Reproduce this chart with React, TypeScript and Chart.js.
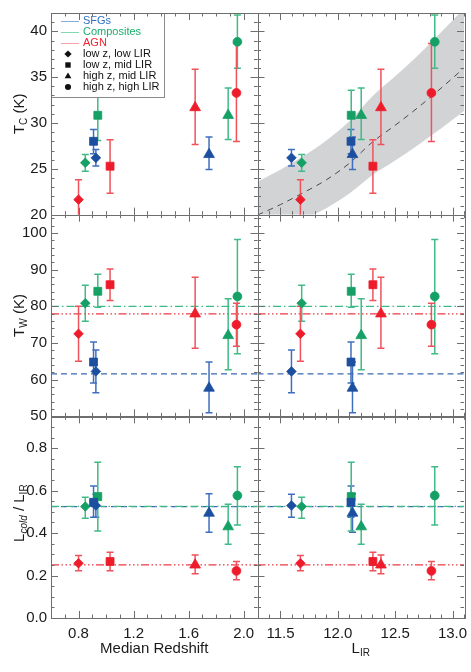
import React, { useEffect, useRef } from 'react';
import { Chart, registerables } from 'chart.js';

const FONT = '"Liberation Sans", Arial, Helvetica, sans-serif';

// ---------------- axes ----------------
const Z_RANGE = [0.6, 2.1];
const LIR_RANGE = [11.3, 13.1];
const TC_RANGE = [20, 42];
const TW_RANGE = [50, 105];
const LF_RANGE = [0, 0.95];
const Z_TICKS = [0.8, 1.2, 1.6, 2.0];
const LIR_TICKS = [11.5, 12.0, 12.5, 13.0];
const TC_TICKS = [20, 25, 30, 35, 40];
const TW_TICKS = [50, 60, 70, 80, 90, 100];
const LF_TICKS = [0.0, 0.2, 0.4, 0.6, 0.8];
const Z_MINOR = 0.1;
const LIR_MINOR = 0.1;
const TC_MINOR = 1;
const TW_MINOR = 2;
const LF_MINOR = 0.05;

// ---------------- categories / groups ----------------
const CATEGORY_LABELS = ['low z, low LIR', 'low z, mid LIR', 'high z, mid LIR', 'high z, high LIR'];
const CATEGORY_SHAPES = ['rectRot', 'rect', 'triangle', 'circle'];
const GROUP_NAMES = ['SFGs', 'Composites', 'AGN'];

// ---------------- SFGs (no high z, high LIR bin) ----------------
const SFG_Z = [0.926, 0.909, 1.748, null];
const SFG_LIR = [11.596, 12.115, 12.128, null];
const SFG_TC = [26.2, 28.0, 26.57, null];
const SFG_TC_LO = [25.3, 26.64, 24.93, null];
const SFG_TC_HI = [27.1, 29.3, 28.46, null];
const SFG_TW = [62.25, 64.8, 57.7, null];
const SFG_TW_LO = [56.4, 59.1, 51.0, null];
const SFG_TW_HI = [68.1, 70.3, 64.8, null];
const SFG_LF = [0.53, 0.545, 0.494, null];
const SFG_LF_LO = [0.475, 0.475, 0.404, null];
const SFG_LF_HI = [0.583, 0.622, 0.585, null];

// ---------------- Composites ----------------
const COMP_Z = [0.849, 0.94, 1.887, 1.954];
const COMP_LIR = [11.685, 12.117, 12.204, 12.845];
const COMP_TC = [25.66, 30.84, 30.84, 38.86];
const COMP_TC_LO = [24.74, 28.1, 28.2, 35.98];
const COMP_TC_HI = [26.57, 33.57, 33.82, 41.78];
const COMP_TW = [80.85, 84.1, 72.05, 82.7];
const COMP_TW_LO = [75.9, 79.75, 62.7, 67.1];
const COMP_TW_HI = [85.75, 88.75, 82.05, 98.2];
const COMP_LF = [0.525, 0.572, 0.43, 0.577];
const COMP_LF_LO = [0.47, 0.41, 0.348, 0.438];
const COMP_LF_HI = [0.569, 0.734, 0.536, 0.713];

// ---------------- AGN ----------------
const AGN_Z = [0.8, 1.029, 1.647, 1.947];
const AGN_LIR = [11.674, 12.306, 12.376, 12.816];
const AGN_TC = [21.64, 25.29, 31.68, 33.28];
const AGN_TC_LO = [19.3, 22.33, 27.66, 27.99];
const AGN_TC_HI = [23.8, 28.18, 35.87, 38.68];
const AGN_TW = [72.5, 85.9, 77.95, 75.0];
const AGN_TW_LO = [65.05, 81.6, 68.6, 69.1];
const AGN_TW_HI = [80.0, 90.2, 87.9, 80.85];
const AGN_LF = [0.258, 0.266, 0.25, 0.222];
const AGN_LF_LO = [0.222, 0.222, 0.208, 0.18];
const AGN_LF_HI = [0.294, 0.31, 0.297, 0.266];

// ---------------- reference lines (SFG, Comp, AGN) ----------------
const TW_REF = [61.6, 80.0, 77.96];
const LF_REF = [0.525, 0.526, 0.25];

// ---------------- Tc - LIR fit and band ----------------
const FIT_LIR = [11.3, 11.5, 11.7, 11.9, 12.1, 12.3, 12.5, 12.7, 12.9, 13.1];
const FIT_TC = [19.95, 21.1, 22.4, 23.8, 25.6, 27.9, 29.75, 31.7, 33.8, 36.0];
const FIT_TC_HI = [23.6, 24.9, 26.4, 28.1, 30.2, 32.9, 35.1, 37.4, 39.9, 42.5];
const FIT_TC_LO = [17.3, 18.4, 19.5, 20.7, 22.3, 24.3, 25.9, 27.6, 29.4, 31.3];

// ---------------- styles ----------------
const MARKER_COLORS = ['#1c4f9f', '#15a065', '#ee1c2b'];
const BAR_COLORS = ['#3e6fbf', '#40ba86', '#f0525c'];
const TEXT_COLORS = ['#2f70c5', '#1aad6d', '#ef2230'];
const LEGEND_LINE_COLORS = ['#86abdd', '#86d8b2', '#f7a1a8'];
const REF_COLORS = ['#3a68b5', '#3dbb86', '#ee3944'];
const REF_DASH = [[6, 4], [8, 3, 1.5, 3], [8, 2.5, 1.5, 2.5, 1.5, 2.5, 1.5, 2.5]];
const MARKER_RADII = [4.8, 5.6, 6.2, 4.4];
const FRAME_COLOR = '#6e6e6e';
const BAND_COLOR = '#d2d3d5';
const FIT_COLOR = '#4a4a4a';

const GROUPS = [
  { z: SFG_Z, lir: SFG_LIR, yT: [SFG_TC, SFG_TC_LO, SFG_TC_HI], yW: [SFG_TW, SFG_TW_LO, SFG_TW_HI], yL: [SFG_LF, SFG_LF_LO, SFG_LF_HI] },
  { z: COMP_Z, lir: COMP_LIR, yT: [COMP_TC, COMP_TC_LO, COMP_TC_HI], yW: [COMP_TW, COMP_TW_LO, COMP_TW_HI], yL: [COMP_LF, COMP_LF_LO, COMP_LF_HI] },
  { z: AGN_Z, lir: AGN_LIR, yT: [AGN_TC, AGN_TC_LO, AGN_TC_HI], yW: [AGN_TW, AGN_TW_LO, AGN_TW_HI], yL: [AGN_LF, AGN_LF_LO, AGN_LF_HI] },
];

const PANELS = [
  { x: 'xz', y: 'yT' }, { x: 'xl', y: 'yT' },
  { x: 'xz', y: 'yW' }, { x: 'xl', y: 'yW' },
  { x: 'xz', y: 'yL' }, { x: 'xl', y: 'yL' },
];

const X_INFO: any = {
  xz: { range: Z_RANGE, ticks: Z_TICKS, minor: Z_MINOR },
  xl: { range: LIR_RANGE, ticks: LIR_TICKS, minor: LIR_MINOR },
};
const Y_INFO: any = {
  yT: { range: TC_RANGE, ticks: TC_TICKS, minor: TC_MINOR },
  yW: { range: TW_RANGE, ticks: TW_TICKS, minor: TW_MINOR },
  yL: { range: LF_RANGE, ticks: LF_TICKS, minor: LF_MINOR },
};

function minorTicks(range: number[], step: number) {
  const out: number[] = [];
  const n = Math.round((range[1] - range[0]) / step);
  const start = Math.ceil(range[0] / step - 1e-6);
  for (let k = start; k * step <= range[1] + 1e-9; k++) out.push(+(k * step).toFixed(4));
  return out;
}

// ---------------- datasets ----------------
function buildDatasets() {
  const ds: any[] = [];
  // markers
  PANELS.forEach((p) => {
    GROUPS.forEach((g, gi) => {
      const xs = p.x === 'xz' ? g.z : g.lir;
      const [vals] = (g as any)[p.y];
      const data: any[] = [];
      const styles: string[] = [];
      const radii: number[] = [];
      xs.forEach((xv: any, i: number) => {
        if (xv == null || vals[i] == null) return;
        data.push({ x: xv, y: vals[i] });
        styles.push(CATEGORY_SHAPES[i]);
        radii.push(MARKER_RADII[i]);
      });
      ds.push({
        type: 'scatter', data, xAxisID: p.x, yAxisID: p.y, showLine: false,
        pointStyle: styles, pointRadius: radii, pointBorderWidth: 0.8,
        pointBackgroundColor: MARKER_COLORS[gi], pointBorderColor: MARKER_COLORS[gi],
        order: 0, isMarker: true,
      });
    });
  });
  // reference lines (green on top, then red, blue lowest)
  const refOrder = [1, 2, 0];
  PANELS.forEach((p) => {
    const refs = p.y === 'yW' ? TW_REF : p.y === 'yL' ? LF_REF : null;
    if (!refs) return;
    const r = X_INFO[p.x].range;
    refOrder.forEach((gi) => {
      ds.push({
        type: 'line', xAxisID: p.x, yAxisID: p.y,
        data: [{ x: r[0], y: refs[gi] }, { x: r[1], y: refs[gi] }],
        borderColor: REF_COLORS[gi], borderWidth: 1.2, borderDash: REF_DASH[gi],
        pointRadius: 0, fill: false, order: 1,
      });
    });
  });
  // fit line
  ds.push({
    type: 'line', xAxisID: 'xl', yAxisID: 'yT',
    data: FIT_LIR.map((x, i) => ({ x, y: FIT_TC[i] })),
    borderColor: FIT_COLOR, borderWidth: 1, borderDash: [6, 5],
    pointRadius: 0, fill: false, cubicInterpolationMode: 'monotone', order: 2,
  });
  // band
  const hiIndex = ds.length;
  ds.push({
    type: 'line', xAxisID: 'xl', yAxisID: 'yT',
    data: FIT_LIR.map((x, i) => ({ x, y: FIT_TC_HI[i] })),
    borderWidth: 0, borderColor: 'rgba(0,0,0,0)', backgroundColor: BAND_COLOR,
    pointRadius: 0, fill: hiIndex + 1, cubicInterpolationMode: 'monotone', order: 3, panelClip: true,
  });
  ds.push({
    type: 'line', xAxisID: 'xl', yAxisID: 'yT',
    data: FIT_LIR.map((x, i) => ({ x, y: FIT_TC_LO[i] })),
    borderWidth: 0, borderColor: 'rgba(0,0,0,0)',
    pointRadius: 0, fill: false, cubicInterpolationMode: 'monotone', order: 3, panelClip: true,
  });
  return ds;
}

// ---------------- plugins ----------------
const panelClipPlugin = {
  id: 'panelClip',
  beforeDatasetDraw(chart: any, args: any) {
    const d = chart.data.datasets[args.index];
    if (!d.panelClip) return;
    const xs = chart.scales[d.xAxisID], ys = chart.scales[d.yAxisID];
    chart.ctx.save();
    chart.ctx.beginPath();
    chart.ctx.rect(xs.left, ys.top, xs.right - xs.left, ys.bottom - ys.top);
    chart.ctx.clip();
  },
  afterDatasetDraw(chart: any, args: any) {
    const d = chart.data.datasets[args.index];
    if (!d.panelClip) return;
    chart.ctx.restore();
  },
};

function drawErrorBars(chart: any) {
  const ctx = chart.ctx;
  PANELS.forEach((p) => {
    const xs = chart.scales[p.x], ys = chart.scales[p.y];
    ctx.save();
    ctx.beginPath();
    ctx.rect(xs.left, ys.top, xs.right - xs.left, ys.bottom - ys.top);
    ctx.clip();
    GROUPS.forEach((g, gi) => {
      const xv = p.x === 'xz' ? g.z : g.lir;
      const [vals, lo, hi] = (g as any)[p.y];
      ctx.strokeStyle = BAR_COLORS[gi];
      ctx.lineWidth = 1.5;
      xv.forEach((x: any, i: number) => {
        if (x == null || vals[i] == null) return;
        const px = xs.getPixelForValue(x);
        const p1 = ys.getPixelForValue(lo[i]);
        const p2 = ys.getPixelForValue(hi[i]);
        ctx.beginPath();
        ctx.moveTo(px, p1); ctx.lineTo(px, p2);
        ctx.moveTo(px - 3.5, p1); ctx.lineTo(px + 3.5, p1);
        ctx.moveTo(px - 3.5, p2); ctx.lineTo(px + 3.5, p2);
        ctx.stroke();
      });
    });
    ctx.restore();
  });
}

function drawShape(ctx: any, shape: string, x: number, y: number, r: number) {
  ctx.beginPath();
  if (shape === 'rectRot') {
    ctx.moveTo(x, y - r); ctx.lineTo(x + r, y); ctx.lineTo(x, y + r); ctx.lineTo(x - r, y);
  } else if (shape === 'rect') {
    const s = r * 0.75;
    ctx.rect(x - s, y - s, 2 * s, 2 * s);
  } else if (shape === 'triangle') {
    ctx.moveTo(x, y - r); ctx.lineTo(x + r * 0.95, y + r * 0.62); ctx.lineTo(x - r * 0.95, y + r * 0.62);
  } else {
    ctx.arc(x, y, r * 0.85, 0, Math.PI * 2);
  }
  ctx.closePath();
  ctx.fill();
}

function drawRich(ctx: any, parts: any[], cx: number, cy: number, rot: boolean) {
  ctx.save();
  ctx.translate(cx, cy);
  if (rot) ctx.rotate(-Math.PI / 2);
  ctx.textBaseline = 'middle';
  ctx.textAlign = 'left';
  ctx.fillStyle = '#1a1a1a';
  const fontFor = (p: any) => `${p.italic ? 'italic ' : ''}${p.sub ? 10 : 15}px ${FONT}`;
  let total = 0;
  for (const p of parts) { ctx.font = fontFor(p); total += ctx.measureText(p.t).width; }
  let x = -total / 2;
  for (const p of parts) {
    ctx.font = fontFor(p);
    ctx.fillText(p.t, x, p.sub ? 4 : 0);
    x += ctx.measureText(p.t).width;
  }
  ctx.restore();
}

const decorPlugin = {
  id: 'decor',
  beforeDatasetsDraw(chart: any) { chart.$errDone = false; },
  beforeDatasetDraw(chart: any, args: any) {
    const d = chart.data.datasets[args.index];
    if (d.isMarker && !chart.$errDone) { drawErrorBars(chart); chart.$errDone = true; }
  },
  afterDatasetsDraw(chart: any) {
    const ctx = chart.ctx;
    // legend
    const xs = chart.scales.xz, ys = chart.scales.yT;
    const L = xs.left, T = ys.top;
    ctx.save();
    ctx.fillStyle = '#ffffff';
    ctx.fillRect(L, T, 113, 84);
    ctx.strokeStyle = '#8a8a8a';
    ctx.lineWidth = 1;
    ctx.strokeRect(Math.round(L) + 0.5, Math.round(T) + 0.5, 113, 84);
    ctx.font = `11px ${FONT}`;
    ctx.textBaseline = 'middle';
    ctx.textAlign = 'left';
    GROUP_NAMES.forEach((name, i) => {
      const y = T + 8 + i * 11;
      ctx.strokeStyle = LEGEND_LINE_COLORS[i];
      ctx.lineWidth = 1;
      ctx.beginPath(); ctx.moveTo(L + 10, y + 0.5); ctx.lineTo(L + 28, y + 0.5); ctx.stroke();
      ctx.fillStyle = TEXT_COLORS[i];
      ctx.fillText(name, L + 32, y);
    });
    CATEGORY_LABELS.forEach((lab, i) => {
      const y = T + 8 + (i + 3) * 11;
      ctx.fillStyle = '#111';
      drawShape(ctx, CATEGORY_SHAPES[i], L + 17, y, 3.6);
      ctx.fillText(lab, L + 32, y);
    });
    ctx.restore();
  },
  afterDraw(chart: any) {
    const ctx = chart.ctx;
    ctx.save();
    ctx.strokeStyle = FRAME_COLOR;
    ctx.lineWidth = 1;
    PANELS.forEach((p) => {
      const xs = chart.scales[p.x], ys = chart.scales[p.y];
      const L = xs.left, R = xs.right, T = ys.top, B = ys.bottom;
      const xi = X_INFO[p.x], yi = Y_INFO[p.y];
      const tickSet = (vals: number[], len: number, horiz: boolean, scale: any) => {
        vals.forEach((v) => {
          const pp = Math.round(scale.getPixelForValue(v)) + 0.5;
          ctx.beginPath();
          if (horiz) {
            ctx.moveTo(pp, B); ctx.lineTo(pp, B - len);
            ctx.moveTo(pp, T); ctx.lineTo(pp, T + len);
          } else {
            ctx.moveTo(L, pp); ctx.lineTo(L + len, pp);
            ctx.moveTo(R, pp); ctx.lineTo(R - len, pp);
          }
          ctx.stroke();
        });
      };
      tickSet(minorTicks(xi.range, xi.minor), 3.5, true, xs);
      tickSet(xi.ticks, 7, true, xs);
      tickSet(minorTicks(yi.range, yi.minor), 3.5, false, ys);
      tickSet(yi.ticks, 7, false, ys);
      ctx.strokeRect(Math.round(L) + 0.5, Math.round(T) + 0.5, Math.round(R - L), Math.round(B - T));
    });
    ctx.restore();
    // axis titles
    const yT = chart.scales.yT, yW = chart.scales.yW, yL = chart.scales.yL;
    const xz = chart.scales.xz, xl = chart.scales.xl;
    drawRich(ctx, [{ t: 'T' }, { t: 'C', sub: true }, { t: ' (K)' }], 20, (yT.top + yT.bottom) / 2, true);
    drawRich(ctx, [{ t: 'T' }, { t: 'W', sub: true }, { t: ' (K)' }], 20, (yW.top + yW.bottom) / 2, true);
    drawRich(ctx, [{ t: 'L' }, { t: 'cold', sub: true, italic: true }, { t: ' / L' }, { t: 'IR', sub: true }], 20, (yL.top + yL.bottom) / 2 - 4, true);
    drawRich(ctx, [{ t: 'Median Redshift' }], (xz.left + xz.right) / 2, 649, false);
    drawRich(ctx, [{ t: 'L' }, { t: 'IR', sub: true }], (xl.left + xl.right) / 2, 649, false);
  },
};

Chart.register(panelClipPlugin as any);
Chart.register(...registerables);

function xScale(id: string, weight: number) {
  const info = X_INFO[id];
  return {
    type: 'linear', position: 'bottom', stack: 'xs', stackWeight: 1, weight,
    min: info.range[0], max: info.range[1],
    grid: { display: false, drawTicks: false }, border: { display: false },
    ticks: {
      autoSkip: false, maxRotation: 0, padding: 7, color: '#1a1a1a',
      font: { family: FONT, size: 15 },
      callback: (v: any) => Number(v).toFixed(1),
    },
    afterBuildTicks: (s: any) => { s.ticks = info.ticks.map((v: number) => ({ value: v })); },
    afterFit: (s: any) => { s.height = 54; s.paddingLeft = 0; s.paddingRight = 0; },
  };
}

function yScale(id: string, weight: number, fmt: (v: number) => string) {
  const info = Y_INFO[id];
  return {
    type: 'linear', position: 'left', stack: 'ys', stackWeight: 1, weight,
    min: info.range[0], max: info.range[1],
    grid: { display: false, drawTicks: false }, border: { display: false },
    ticks: {
      autoSkip: false, padding: 4, color: '#1a1a1a',
      font: { family: FONT, size: 15 },
      callback: (v: any) => fmt(Number(v)),
    },
    afterBuildTicks: (s: any) => { s.ticks = info.ticks.map((v: number) => ({ value: v })); },
    afterFit: (s: any) => { s.width = 51; s.paddingTop = 0; s.paddingBottom = 0; },
  };
}

export default function App() {
  const ref = useRef<HTMLCanvasElement>(null);
  useEffect(() => {
    const chart = new Chart(ref.current as HTMLCanvasElement, {
      type: 'scatter',
      data: { datasets: buildDatasets() },
      options: {
        animation: false,
        responsive: false,
        devicePixelRatio: 1,
        layout: { padding: { top: 13, right: 5, left: 0, bottom: 0 } },
        plugins: {
          legend: { display: false },
          tooltip: { enabled: false },
          filler: { propagate: false },
        },
        scales: {
          xz: xScale('xz', 1),
          xl: xScale('xl', 2),
          yT: yScale('yT', 3, (v) => String(v)),
          yW: yScale('yW', 2, (v) => String(v)),
          yL: yScale('yL', 1, (v) => v.toFixed(1)),
        },
      } as any,
      plugins: [decorPlugin as any],
    } as any);
    return () => chart.destroy();
  }, []);
  return (
    <div style={{ position: 'fixed', left: 0, top: 0, width: 471, height: 672, background: '#fff' }}>
      <canvas ref={ref} width={471} height={672} style={{ display: 'block', width: 471, height: 672 }} />
    </div>
  );
}
